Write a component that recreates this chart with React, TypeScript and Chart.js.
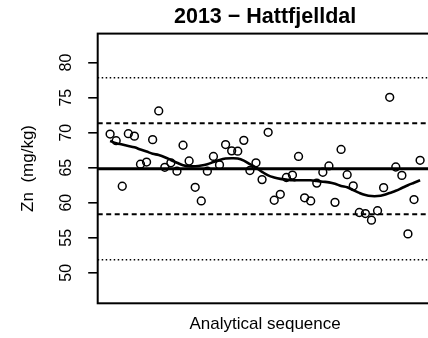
import React, { useEffect, useRef } from "react";
import { Chart, registerables } from "chart.js";

Chart.register(...registerables);

const TITLE = "2013 − Hattfjelldal";
const X_LABEL = "Analytical sequence";
const Y_LABEL = "Zn  (mg/kg)";
const Y_TICKS = [50, 55, 60, 65, 70, 75, 80];

// Zn measurements in analytical order (sample 1..52)
const ZN_VALUES = [
  69.8, 68.85, 62.35, 69.85, 69.5, 65.5, 65.8, 69.0, 73.1, 65.05,
  65.7, 64.5, 68.2, 65.95, 62.2, 60.25, 64.5, 66.6, 65.4, 68.3,
  67.4, 67.35, 68.9, 64.6, 65.7, 63.3, 70.05, 60.35, 61.2, 63.6,
  63.95, 66.6, 60.7, 60.25, 62.8, 64.35, 65.25, 60.05, 67.6, 64.0,
  62.4, 58.6, 58.45, 57.5, 58.85, 62.15, 75.05, 65.1, 63.9, 55.55,
  60.45, 66.05,
];

// smoothed trend
const SMOOTH_VALUES = [
  68.8, 68.5, 68.3, 68.1, 67.9, 67.6, 67.3, 67.0, 66.8, 66.5,
  66.1, 65.7, 65.35, 65.2, 65.2, 65.3, 65.5, 65.8, 66.1, 66.3,
  66.35, 66.3, 66.0, 65.5, 65.0, 64.4, 63.9, 63.6, 63.4, 63.3,
  63.2, 63.2, 63.2, 63.2, 63.1, 63.0, 62.9, 62.7, 62.4, 62.2,
  61.8, 61.4, 61.1, 60.95, 60.95, 61.1, 61.4, 61.7, 62.1, 62.5,
  62.85, 63.2,
];

const MEAN_LINE = 64.85;
const DASHED_LINES = [71.35, 58.35];
const DOTTED_LINES = [77.85, 51.85];

const X_MIN = -1.04;
const X_MAX = 54.04;
const Y_MIN = 45.64;
const Y_MAX = 84.14;

const FONT = "'Liberation Sans', Arial, Helvetica, sans-serif";

const framePlugin = {
  id: "frame",
  afterDraw(chart: any) {
    const { ctx, chartArea } = chart;
    ctx.save();
    ctx.strokeStyle = "#000";
    ctx.lineWidth = 2;
    ctx.strokeRect(
      chartArea.left,
      chartArea.top,
      chartArea.right - chartArea.left,
      chartArea.bottom - chartArea.top
    );
    ctx.restore();
  },
};

function hLine(y: number, dash: number[], width: number) {
  return {
    type: "line" as const,
    data: [
      { x: X_MIN, y },
      { x: X_MAX, y },
    ],
    borderColor: "#000",
    borderWidth: width,
    borderDash: dash,
    pointRadius: 0,
    fill: false,
  };
}

export default function App() {
  const ref = useRef<HTMLCanvasElement | null>(null);

  useEffect(() => {
    if (!ref.current) return;
    const chart = new Chart(ref.current, {
      type: "scatter",
      data: {
        datasets: [
          {
            type: "scatter",
            data: ZN_VALUES.map((y, i) => ({ x: i + 1, y })),
            pointStyle: "circle",
            pointRadius: 3.9,
            borderWidth: 1.5,
            borderColor: "#000",
            backgroundColor: "rgba(0,0,0,0)",
            showLine: false,
          } as any,
          {
            type: "line",
            data: SMOOTH_VALUES.map((y, i) => ({ x: i + 1, y })),
            borderColor: "#000",
            borderWidth: 2.6,
            tension: 0.4,
            pointRadius: 0,
            fill: false,
          } as any,
          hLine(MEAN_LINE, [], 3),
          ...DASHED_LINES.map((v) => hLine(v, [5, 3.5], 2)),
          ...DOTTED_LINES.map((v) => hLine(v, [1.5, 2.5], 1.5)),
        ] as any,
      },
      options: {
        animation: false,
        responsive: false,
        devicePixelRatio: 1,
        layout: { padding: 0 },
        plugins: {
          legend: { display: false },
          tooltip: { enabled: false },
          title: {
            display: true,
            text: TITLE,
            fullSize: false,
            color: "#000",
            font: { family: FONT, size: 21.5, weight: "bold" },
            padding: { top: 4.2, bottom: 3.6 },
          },
        },
        scales: {
          x: {
            type: "linear",
            min: X_MIN,
            max: X_MAX,
            grid: { display: false },
            border: { display: false },
            ticks: { display: false },
            title: {
              display: true,
              text: X_LABEL,
              color: "#000",
              font: { family: FONT, size: 17 },
              padding: { top: 0, bottom: 3.8 },
            },
            afterFit: (s: any) => {
              s.height = 34.7;
            },
          },
          y: {
            type: "linear",
            min: Y_MIN,
            max: Y_MAX,
            afterBuildTicks: (s: any) => {
              s.ticks = Y_TICKS.map((v) => ({ value: v }));
            },
            grid: {
              drawOnChartArea: false,
              drawTicks: true,
              tickLength: 9.5,
              color: "#000",
              lineWidth: 1.6,
            },
            border: { display: false },
            ticks: {
              minRotation: 90,
              maxRotation: 90,
              crossAlign: "center",
              padding: 13,
              color: "#000",
              font: { family: FONT, size: 16 },
            },
            title: {
              display: true,
              text: Y_LABEL,
              color: "#000",
              font: { family: FONT, size: 17 },
              padding: { top: 18.1, bottom: 0 },
            },
            afterFit: (s: any) => {
              s.width = 97.7;
            },
          },
        },
      } as any,
      plugins: [framePlugin],
    });
    return () => chart.destroy();
  }, []);

  return (
    <div
      style={{
        position: "fixed",
        left: 0,
        top: 0,
        width: 428,
        height: 338,
        overflow: "hidden",
        background: "#fff",
      }}
    >
      <canvas
        ref={ref}
        width={438}
        height={338}
        style={{ display: "block", width: 438, height: 338 }}
      />
    </div>
  );
}
